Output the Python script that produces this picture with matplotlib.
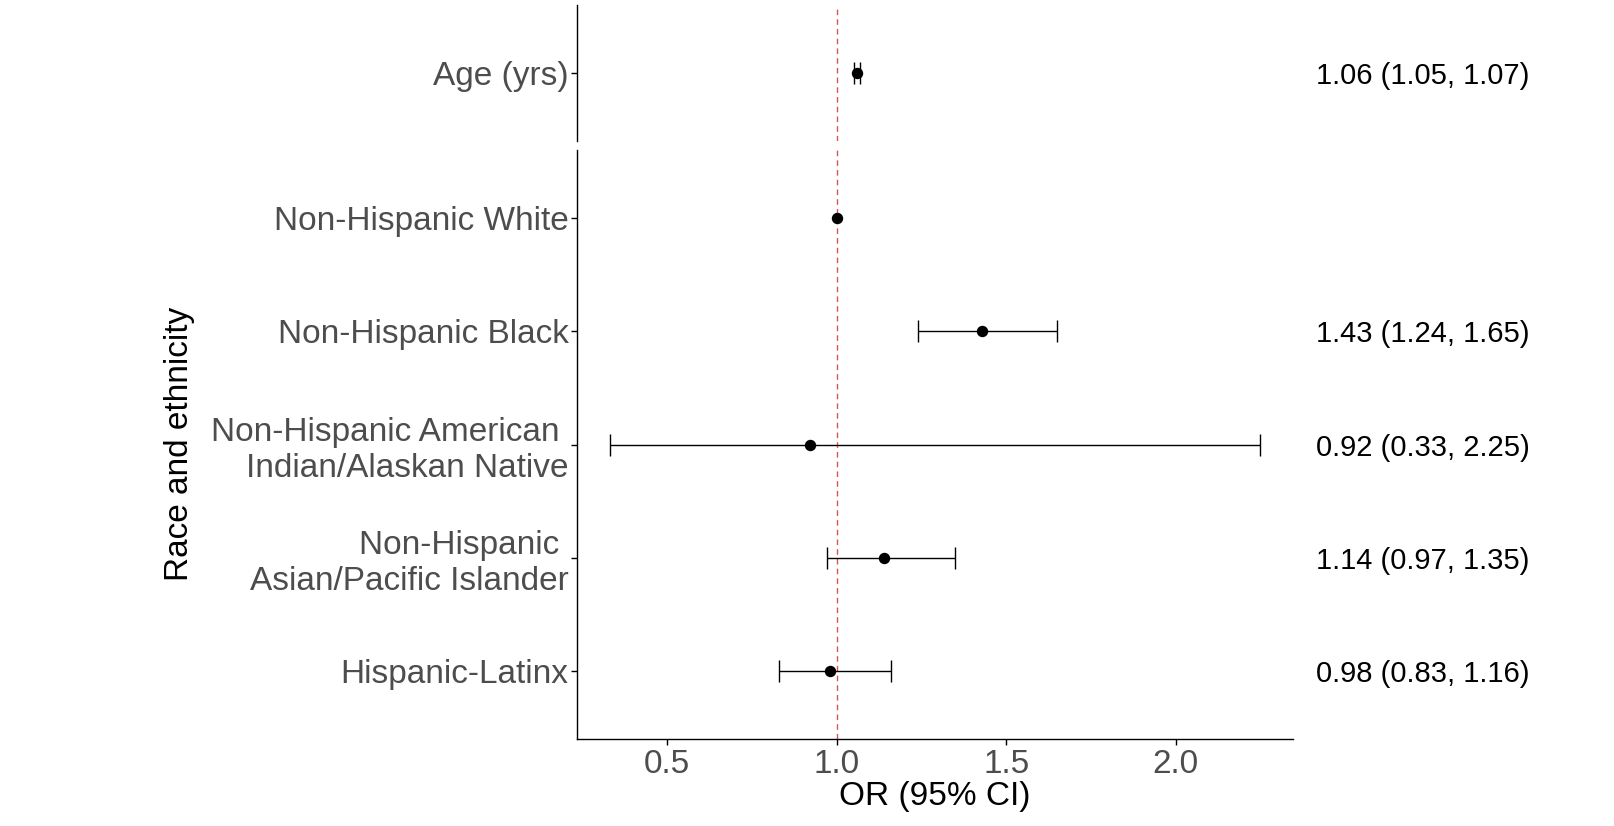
import matplotlib
matplotlib.use('Agg')
import matplotlib.pyplot as plt
import matplotlib.transforms as mtransforms

plt.rcParams['font.family'] = ['Liberation Sans', 'DejaVu Sans']

# data
age_label = 'Age (yrs)'
age_or = 1.06
age_lo = 1.05
age_hi = 1.07
age_text = '1.06 (1.05, 1.07)'

race_labels = ['Non-Hispanic White',
               'Non-Hispanic Black',
               'Non-Hispanic American \nIndian/Alaskan Native',
               'Non-Hispanic \nAsian/Pacific Islander',
               'Hispanic-Latinx']
race_or = [1.00, 1.43, 0.92, 1.14, 0.98]
race_lo = [None, 1.24, 0.33, 0.97, 0.83]
race_hi = [None, 1.65, 2.25, 1.35, 1.16]
race_text = ['', '1.43 (1.24, 1.65)', '0.92 (0.33, 2.25)',
             '1.14 (0.97, 1.35)', '0.98 (0.83, 1.16)']

xticks = [0.5, 1.0, 1.5, 2.0]

W, H = 1615, 826
fig = plt.figure(figsize=(W / 100, H / 100), dpi=100)

left = 577 / W
width = (1293 - 577) / W
ax_age = fig.add_axes([left, 1 - 141 / H, width, 136 / H])
ax_race = fig.add_axes([left, 1 - 739 / H, width, (739 - 150) / H])

# ggplot-like 5% expansion
all_lo = [age_lo] + [v for v in race_lo if v is not None]
all_hi = [age_hi] + [v for v in race_hi if v is not None]
xmin, xmax = min(all_lo), max(all_hi)
pad = 0.05 * (xmax - xmin)
xlim = (xmin - pad, xmax + pad)

tick_col = '#4D4D4D'
ref_col = '#D2555A'

def style(ax):
    for s in ['top', 'right']:
        ax.spines[s].set_visible(False)
    ax.spines['left'].set_linewidth(1.0)
    ax.spines['bottom'].set_linewidth(1.0)
    ax.set_xlim(*xlim)
    ax.axvline(1.0, color=ref_col, lw=1.0, dashes=(4, 3), zorder=1)
    ax.tick_params(axis='y', length=4, width=1.0, pad=2, labelsize=24, labelcolor=tick_col)
    ax.tick_params(axis='x', length=4, width=1.0, pad=3, labelsize=24, labelcolor=tick_col)

# the value column sits a few pixels lower than the row centre
shift = mtransforms.ScaledTranslation(0, -3 / 100, fig.dpi_scale_trans)
txt_tr_age = mtransforms.blended_transform_factory(ax_age.transAxes, ax_age.transData) + shift
txt_tr_race = mtransforms.blended_transform_factory(ax_race.transAxes, ax_race.transData) + shift
txt_x = (1316 - 577) / (1293 - 577)

# age panel
style(ax_age)
ax_age.spines['bottom'].set_visible(False)
ax_age.set_xticks([])
ax_age.set_ylim(-0.6, 0.6)
ax_age.set_yticks([0])
ax_age.set_yticklabels([age_label])
ax_age.errorbar([age_or], [0], xerr=[[age_or - age_lo], [age_hi - age_or]],
                fmt='o', color='black', ms=7.2, elinewidth=1.0, capsize=8,
                capthick=1.0, zorder=3)
ax_age.text(txt_x, 0, age_text, transform=txt_tr_age, ha='left', va='center',
            fontsize=21, color='black', clip_on=False)

# race panel
style(ax_race)
n = len(race_labels)
ypos = list(range(n - 1, -1, -1))
ax_race.set_ylim(-0.6, n - 1 + 0.6)
ax_race.set_yticks(ypos)
ax_race.set_yticklabels(race_labels)
ax_race.set_xticks(xticks)
ax_race.set_xticklabels(['%.1f' % t for t in xticks])
for y, o, lo, hi, t in zip(ypos, race_or, race_lo, race_hi, race_text):
    if lo is not None:
        ax_race.errorbar([o], [y], xerr=[[o - lo], [hi - o]], fmt='o', color='black',
                         ms=7.2, elinewidth=1.0, capsize=8, capthick=1.0, zorder=3)
    else:
        ax_race.plot([o], [y], 'o', color='black', ms=7.2, zorder=3)
    if t:
        ax_race.text(txt_x, y, t, transform=txt_tr_race, ha='left', va='center',
                     fontsize=21, color='black', clip_on=False)

fig.text(180 / W, 1 - 444 / H, 'Race and ethnicity', rotation=90, ha='center',
         va='center', fontsize=24, color='black')
fig.text(left + width / 2, 1 - 796 / H, 'OR (95% CI)', ha='center', va='center',
         fontsize=24, color='black')

fig.savefig('out.png', dpi=100)
